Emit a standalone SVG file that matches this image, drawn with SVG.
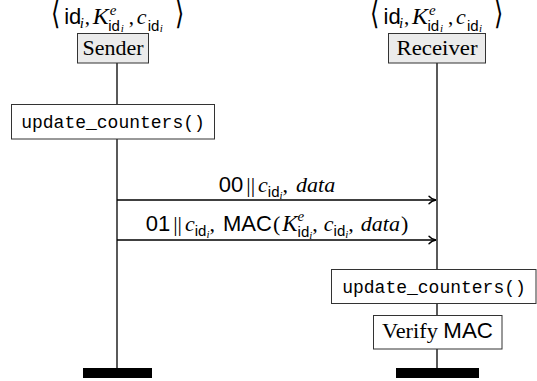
<svg xmlns="http://www.w3.org/2000/svg" xmlns:xlink="http://www.w3.org/1999/xlink" width="537" height="381" viewBox="0 0 537 381">
<style>
.rm{font-family:"Liberation Serif",serif;font-size:21px;fill:#000}
.it{font-family:"Liberation Serif",serif;font-style:italic}
.sf{font-family:"Liberation Sans",sans-serif;font-style:normal}
.tt{font-family:"Liberation Mono",monospace;font-size:18px;fill:#000}
.sub{font-size:15px}
.ss{font-size:11px}
.br{font-family:"DejaVu Sans",sans-serif;font-size:24px;font-weight:200;fill:#000}
.actor{fill:#ebebeb;stroke:#333;stroke-width:1}
.act{fill:#fff;stroke:#333;stroke-width:1}
.life{stroke:#000;stroke-width:1.3;fill:none}
.msg{stroke:#000;stroke-width:1.5;fill:none;marker-end:url(#ar)}
.bar{fill:#000}
</style>
<defs>
<marker id="ar" viewBox="-9 -5 10 10" refX="0" refY="0" markerWidth="10" markerHeight="10" orient="auto" markerUnits="userSpaceOnUse">
<path d="M-7,-3.8 C-5,-1.4 -2,-0.3 0,0 C-2,0.3 -5,1.4 -7,3.8" fill="none" stroke="#000" stroke-width="1.4" stroke-linecap="round"/>
</marker>
<g id="hdr">
<text class="br" transform="translate(-67,24) scale(1,1.35)">⟨</text>
<text class="rm"><tspan class="sf" style="font-size:22px" x="-53.5" y="24">id</tspan><tspan class="it sub" x="-38" y="28">i</tspan><tspan x="-33" y="24">,</tspan><tspan class="it" style="font-size:24px" x="-25" y="24">K</tspan><tspan class="it sub" x="-8" y="15">e</tspan><tspan class="sf sub" x="-9.5" y="30.5">id</tspan><tspan class="it ss" x="3" y="32">i</tspan><tspan x="11" y="24">,</tspan><tspan class="it" style="font-size:22px" x="19" y="24">c</tspan><tspan class="sf sub" x="30" y="30.5">id</tspan><tspan class="it ss" x="42" y="32">i</tspan></text>
<text class="br" transform="translate(57,24) scale(1,1.35)">⟩</text>
</g>
</defs>
<g id="lifelines">
<line class="life" x1="117" y1="63" x2="117" y2="369"/>
<line class="life" x1="437" y1="63" x2="437" y2="369"/>
</g>
<g id="sender">
<use xlink:href="#hdr" href="#hdr" transform="translate(117.7,0)"/>
<rect class="actor" x="77.5" y="33.5" width="71" height="29.5"/>
<text class="rm" style="font-size:22px" x="113" y="55" text-anchor="middle" textLength="61" lengthAdjust="spacingAndGlyphs">Sender</text>
</g>
<g id="receiver">
<use xlink:href="#hdr" href="#hdr" transform="translate(437,0)"/>
<rect class="actor" x="388.5" y="33.5" width="97" height="29.5"/>
<text class="rm" style="font-size:22px" x="437" y="55" text-anchor="middle" textLength="81" lengthAdjust="spacingAndGlyphs">Receiver</text>
</g>
<g id="sender-update">
<rect class="act" x="11.5" y="104.5" width="203" height="34.5"/>
<text class="tt" x="113" y="128" text-anchor="middle">update_counters()</text>
</g>
<g id="receiver-update">
<rect class="act" x="331.5" y="269.5" width="204.5" height="34"/>
<text class="tt" x="434" y="293" text-anchor="middle">update_counters()</text>
</g>
<g id="verify">
<rect class="act" x="373.5" y="315.5" width="128.5" height="33.5"/>
<text class="rm" style="font-size:22px" x="437.5" y="338" text-anchor="middle" textLength="111" lengthAdjust="spacingAndGlyphs">Verify <tspan class="sf">MAC</tspan></text>
</g>
<g id="sender-end"><rect class="bar" x="83" y="368" width="69" height="10"/></g>
<g id="receiver-end"><rect class="bar" x="396" y="368" width="83" height="10"/></g>
<g id="connectors">
<line class="msg" x1="117" y1="200" x2="436" y2="200"/>
<line class="msg" x1="117" y1="240" x2="436" y2="240"/>
<text class="rm" style="font-size:22px" x="277" y="192" text-anchor="middle"><tspan class="sf">00</tspan><tspan dx="3">||</tspan><tspan class="it" dx="3">c</tspan><tspan class="sf sub" dy="5">id</tspan><tspan class="it ss" dy="2">i</tspan><tspan dy="-7">,</tspan><tspan class="it" dx="8">data</tspan></text>
<text class="rm" style="font-size:22px" x="277" y="231" text-anchor="middle"><tspan class="sf">01</tspan><tspan dx="3">||</tspan><tspan class="it" dx="3">c</tspan><tspan class="sf sub" dy="5">id</tspan><tspan class="it ss" dy="2">i</tspan><tspan dy="-7">,</tspan><tspan class="sf" dx="8">MAC</tspan><tspan dx="1">(</tspan><tspan class="it" dx="2" style="font-size:23px">K</tspan><tspan class="it sub" dy="-10">e</tspan><tspan class="sf sub" dx="-6.7" dy="16">id</tspan><tspan class="it ss" dy="2">i</tspan><tspan dy="-8">,</tspan><tspan class="it" dx="6">c</tspan><tspan class="sf sub" dy="5">id</tspan><tspan class="it ss" dy="2">i</tspan><tspan dy="-7">,</tspan><tspan class="it" dx="7">data</tspan><tspan dx="1">)</tspan></text>
</g>
</svg>
